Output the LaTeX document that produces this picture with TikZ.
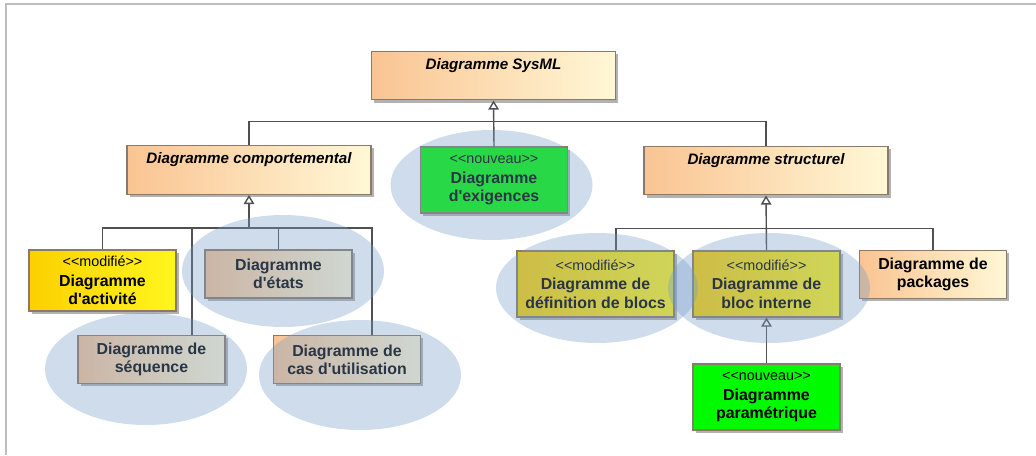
\documentclass[tikz,border=0pt]{standalone}
\usepackage{fontspec}
\setmainfont{Liberation Sans}[Ligatures=TeXOff]
\usepackage{xcolor}
\usepackage{tikz}
\usetikzlibrary{arrows.meta, shadows}

\definecolor{boxline}{RGB}{140,122,104}
\definecolor{orangeL}{RGB}{250,196,146}
\definecolor{orangeR}{RGB}{255,248,214}
\definecolor{yellowL}{RGB}{252,208,0}
\definecolor{yellowR}{RGB}{255,246,30}
\definecolor{greenbox}{RGB}{0,250,0}
\definecolor{bubblecol}{RGB}{118,155,201}
\definecolor{linkcol}{RGB}{80,80,80}
\definecolor{framecol}{RGB}{190,190,190}

\newcommand{\stereo}[1]{{\fontsize{10.2}{12}\mdseries\selectfont <<#1>>}\\[1pt]}

\begin{document}
\begin{tikzpicture}[x=0.025cm,y=-0.025cm]
						\tikzstyle{box}=[draw=boxline,line width=0.8pt,inner sep=0pt,align=center,
							drop shadow={shadow xshift=2pt,shadow yshift=-2pt,fill=black,opacity=0.3}]
						\tikzstyle{abstract}=[box,left color=orangeL,right color=orangeR,minimum width=6.1cm,
							text height=8pt,text depth=16.7pt,inner ysep=5pt,font=\fontsize{10.8}{13}\selectfont\bfseries\itshape]
						\tikzstyle{plain}=[box,left color=orangeL,right color=orangeR,minimum width=3.675cm,
							minimum height=1.2cm,font=\fontsize{11.3}{13}\selectfont\bfseries]
						\tikzstyle{modif}=[box,left color=yellowL,right color=yellowR,minimum width=3.675cm,
							minimum height=1.65cm,font=\fontsize{11.3}{13}\selectfont\bfseries]
						\tikzstyle{nouveau}=[box,fill=greenbox,minimum width=3.675cm,
							minimum height=1.65cm,font=\fontsize{11.3}{13}\selectfont\bfseries]
						\tikzstyle{link}=[draw=linkcol,line width=1pt]
						\tikzstyle{gen}=[link,-{Triangle[open,width=7.5pt,length=6.5pt]}]
						\tikzstyle{bubble}=[fill=bubblecol,fill opacity=0.35]
						\useasboundingbox (0,0) rectangle (1036,455);
						\draw[framecol,line width=1pt] (6,455) -- (6,4) -- (1036,4);
						% boxes
						\node[abstract](sysml) at (493.5,75.5) {Diagramme SysML};
						\node[abstract](comp) at (249,170) {Diagramme comportemental};
						\node[abstract](struct) at (766,170.5) {Diagramme structurel};
						\node[nouveau](exig) at (494,180) {\stereo{nouveau}Diagramme\\d'exigences};
						\node[modif,minimum height=1.525cm](act) at (102.5,280.5) {\stereo{modifié}Diagramme\\d'activité};
						\node[plain](etats) at (278.5,274) {Diagramme\\d'états};
						\node[plain](seq) at (151.5,359.5) {Diagramme de\\séquence};
						\node[plain](cas) at (347,359.5) {Diagramme de\\cas d'utilisation};
						\node[modif,minimum width=3.925cm](def) at (595.5,284) {\stereo{modifié}Diagramme de\\définition de blocs};
						\node[modif](bint) at (766.5,284) {\stereo{modifié}Diagramme de\\bloc interne};
						\node[plain](pack) at (933,274.5) {Diagramme de\\packages};
						\node[nouveau](param) at (766.5,397) {\stereo{nouveau}Diagramme\\paramétrique};
						% connectors
						\path (sysml.south) ++(0,21) coordinate (topbus);
						\path (comp.south) ++(0,33) coordinate (cbus);
						\path (struct.south) ++(0,33) coordinate (sbus);
						\path (seq.north) ++(40.5,0) coordinate (seqtop);
						\path (cas.north) ++(25,0) coordinate (castop);
						\path (def.north) ++(20.5,0) coordinate (deftop);
						\draw[gen] (exig.north) -- (sysml.south);
						\draw[link] (comp.north) |- (topbus) -| (struct.north);
						\draw[gen] (cbus) -- (comp.south);
						\draw[link] (act.north) |- (cbus);
						\draw[link] (etats.north) |- (cbus);
						\draw[link] (seqtop) |- (cbus);
						\draw[link] (castop) |- (cbus);
						\draw[gen] (bint.north) -- (struct.south);
						\draw[link] (deftop) |- (sbus);
						\draw[link] (pack.north) |- (sbus);
						\draw[gen] (param.north) -- (bint.south);
						% highlight bubbles
						\fill[bubble] (491.5,185) ellipse [x radius=101,y radius=55];
						\fill[bubble] (283,271) ellipse [x radius=101,y radius=56];
						\fill[bubble] (146,369) ellipse [x radius=101,y radius=56];
						\fill[bubble] (360,375) ellipse [x radius=101,y radius=55];
						\fill[bubble] (597,288) ellipse [x radius=101,y radius=55];
						\fill[bubble] (769,288) ellipse [x radius=101,y radius=55];
					\end{tikzpicture}
\end{document}
